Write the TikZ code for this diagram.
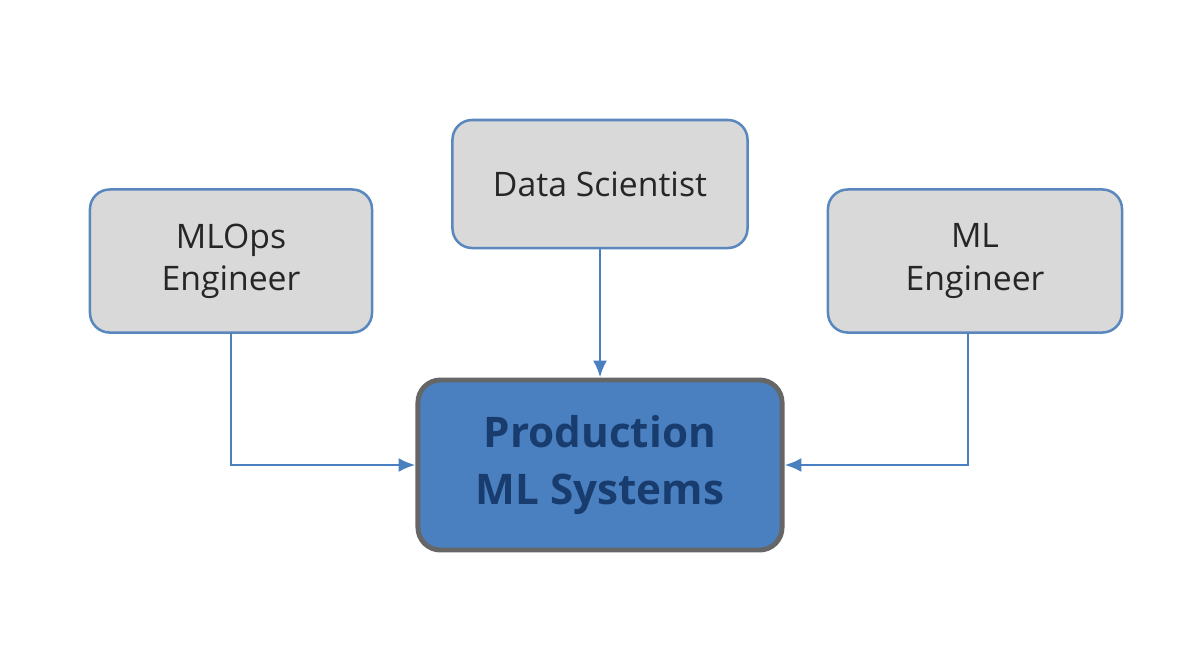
\documentclass[tikz,border=0pt]{standalone}
\usepackage{fontspec}
\setmainfont{Open Sans}
\usetikzlibrary{arrows.meta}
\definecolor{edge}{RGB}{90,135,190}
\definecolor{pfill}{RGB}{74,128,192}
\definecolor{ptext}{RGB}{25,60,110}
\begin{document}
\begin{tikzpicture}[x=0.025cm,y=-0.025cm,
  role/.style={draw=edge, line width=1.8pt, fill=gray!30, rounded corners=14pt, align=center, font=\fontsize{24}{30}\selectfont, text=black!85},
  prod/.style={draw=gray!80!black, line width=3.5pt, fill=pfill, rounded corners=16pt, align=center, font=\fontsize{30}{40}\selectfont\bfseries, text=ptext},
  arr/.style={draw=pfill, line width=2pt, -{Latex[length=12pt,width=10pt]}}]
\useasboundingbox (0,0) rectangle (1200,670);
\node[role, minimum width=7.05cm, minimum height=3.575cm] (mlops) at (231,261) {MLOps\\Engineer};
\node[role, minimum width=7.375cm, minimum height=3.2cm] (ds) at (600,184) {Data Scientist};
\node[role, minimum width=7.35cm, minimum height=3.575cm] (mle) at (975,261) {ML\\Engineer};
\node[prod, minimum width=9.1cm, minimum height=4.25cm] (prod) at (600,465) {Production\\ML Systems};
\draw[arr] (ds.south) -- (prod.north);
\draw[arr] (231,333) |- (prod.west);
\draw[arr] (968,333) |- (prod.east);
\end{tikzpicture}
\end{document}
